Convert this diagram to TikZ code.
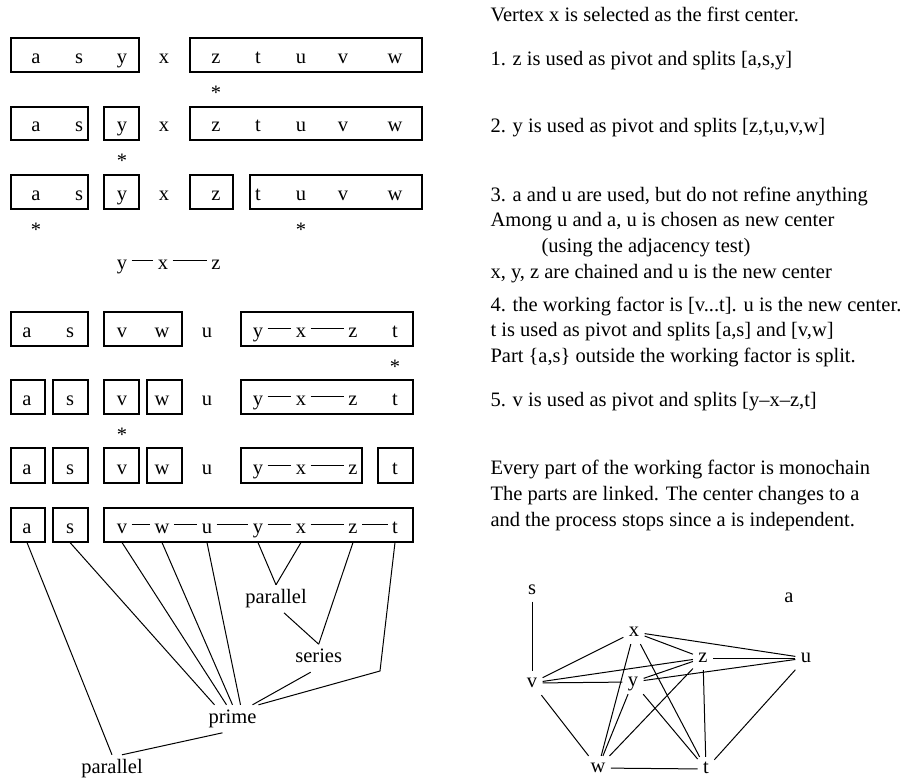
\documentclass[tikz,border=0pt]{standalone}
\usepackage{fontspec}
\setmainfont{Liberation Serif}
\usetikzlibrary{positioning}

\tikzset{
  lt/.style={anchor=base,text height=1ex,text depth=0pt,inner xsep=2pt,inner ysep=4.25pt},
  ast/.style={inner sep=0pt},
  tl/.style={anchor=base,text height=7pt,text depth=2.5pt,inner xsep=0pt,inner ysep=2pt},
  gn/.style={text height=1ex,text depth=0pt,inner xsep=2.5pt,inner ysep=3.5pt},
  txt/.style={anchor=base west,inner sep=0pt},
  part/.style={line width=0.6pt}
}

\begin{document}
\begin{tikzpicture}[x=0.5pt,y=-0.5pt,line width=0.5pt,font=\fontsize{10.25}{12.85}\selectfont]
\useasboundingbox (0,0) rectangle (902,778);

% the partitions, one row per step
\foreach \r/\b in {1/63.5,2/131.5,3/200.5}
  \foreach \n/\x in {a/36,s/79,y/122,x/164,z/216,t/258,u/301,v/343,w/395}
    \node[lt] (\n\r) at (\x,\b) {\n};
\foreach \r/\b in {4/337.5,5/405.5,6/474,7/533.5}
  \foreach \n/\x in {a/27,s/70,v/122,w/162,u/207,y/258,x/301,z/353,t/395}
    \node[lt] (\n\r) at (\x,\b) {\n};
\node[lt] (y0) at (122,269.5) {y};
\node[lt] (x0) at (163,269.5) {x};
\node[lt] (z0) at (216,269.5) {z};

\draw[part] (11,38) rectangle (139,72);
\draw[part] (190,38) rectangle (422,72);
\draw[part] (11,107) rectangle (88,140);
\draw[part] (104,107) rectangle (139,140);
\draw[part] (190,107) rectangle (422,140);
\draw[part] (11,175) rectangle (88,209);
\draw[part] (104,175) rectangle (139,209);
\draw[part] (190,175) rectangle (233,209);
\draw[part] (250,175) rectangle (422,209);
\draw[part] (11,312) rectangle (88,346);
\draw[part] (104,312) rectangle (182,346);
\draw[part] (241,312) rectangle (413,346);
\foreach \t/\d in {380/414,448/483,508/542} {
  \draw[part] (11,\t) rectangle (45,\d);
  \draw[part] (53,\t) rectangle (88,\d);
}
\draw[part] (104,380) rectangle (139,414);
\draw[part] (147,380) rectangle (182,414);
\draw[part] (241,380) rectangle (413,414);
\draw[part] (104,448) rectangle (139,483);
\draw[part] (147,448) rectangle (182,483);
\draw[part] (241,448) rectangle (362,483);
\draw[part] (378,448) rectangle (413,483);
\draw[part] (104,508) rectangle (413,542);

% chains
\draw ([yshift=2pt]y0.east) -- ([yshift=2pt]x0.west);
\draw ([yshift=2pt]x0.east) -- ([yshift=2pt]z0.west);
\foreach \r in {4,5,6} {
  \draw ([yshift=2pt]y\r.east) -- ([yshift=2pt]x\r.west);
  \draw ([yshift=2pt]x\r.east) -- ([yshift=2pt]z\r.west);
}
\foreach \p/\q in {v/w,w/u,u/y,y/x,x/z,z/t}
  \draw ([yshift=2pt]\p7.east) -- ([yshift=2pt]\q7.west);

% pivots
\node[ast,below=6.5pt of z1] (st1) {*};
\node[ast,below=6.5pt of y2] (st2) {*};
\node[ast,below=6.5pt of a3] (st3a) {*};
\node[ast,below=6.5pt of u3] (st3u) {*};
\node[ast,below=6.5pt of t4] (st4) {*};
\node[ast,below=6.5pt of v5] (st5) {*};

% decomposition tree
\node[tl] (par1) at (276,603.3) {parallel};
\node[tl] (ser) at (318.7,662.7) {series};
\node[tl] (prime) at (232.5,723.3) {prime};
\node[tl] (par0) at (112,773.3) {parallel};
\coordinate (tb) at (380,671);
\draw (y7.south) -- (par1.north);
\draw (x7.south) -- (par1.north);
\draw ([xshift=4pt]par1.south) -- (ser.north);
\draw (z7.south) -- (ser.north);
\draw (s7.south) -- ([xshift=-9pt]prime.north);
\draw (v7.south) -- ([xshift=-3pt]prime.north);
\draw (w7.south) -- (prime.north);
\draw (u7.south) -- ([xshift=4pt]prime.north);
\draw ([xshift=-4pt]ser.south) -- ([xshift=10pt]prime.north);
\draw (t7.south) -- (tb) -- ([xshift=13pt]prime.north);
\draw (a7.south) -- (par0.north);
\draw ([xshift=-5pt]prime.south) -- ([xshift=5pt]par0.north);

% explanations
\node[txt] (l0) at (490,21.5) {Vertex x is selected as the first center.};
\node[txt] (l1) at (490,65) {1. z is used as pivot and splits [a,s,y]};
\node[txt] (l2) at (490,132.7) {2. y is used as pivot and splits [z,t,u,v,w]};
\node[txt] (l3a) at (490,201) {3. a and u are used, but do not refine anything};
\node[txt] (l3b) at (490,226.7) {Among u and a, u is chosen as new center};
\node[txt] (l3c) at (541,252.3) {(using the adjacency test)};
\node[txt] (l3d) at (490,278.3) {x, y, z are chained and u is the new center};
\node[txt] (l4a) at (490,311.7) {4. the working factor is [v...t]. u is the new center.};
\node[txt] (l4b) at (490,336.7) {t is used as pivot and splits [a,s] and [v,w]};
\node[txt] (l4c) at (490,362.7) {Part \{a,s\} outside the working factor is split.};
\node[txt] (l5) at (490,406) {5. v is used as pivot and splits [y–x–z,t]};
\node[txt] (l6a) at (490,474) {Every part of the working factor is monochain};
\node[txt] (l6b) at (490,500) {The parts are linked. The center changes to a};
\node[txt] (l6c) at (490,526) {and the process stops since a is independent.};

% final graph
\node[gn] (gs) at (532,589.5) {s};
\node[gn] (ga) at (789,598) {a};
\node[gn] (gx) at (634,632) {x};
\node[gn] (gz) at (703,658) {z};
\node[gn] (gu) at (806,658) {u};
\node[gn] (gv) at (532,683) {v};
\node[gn] (gy) at (633,682) {y};
\node[gn] (gw) at (598,768) {w};
\node[gn] (gt) at (706,769) {t};
\foreach \p/\q in {s/v,v/x,v/z,v/y,v/w,x/z,x/u,x/w,x/t,z/u,z/y,z/w,z/t,y/u,y/w,y/t,w/t,u/t}
  \draw (g\p) -- (g\q);
\end{tikzpicture}
\end{document}
